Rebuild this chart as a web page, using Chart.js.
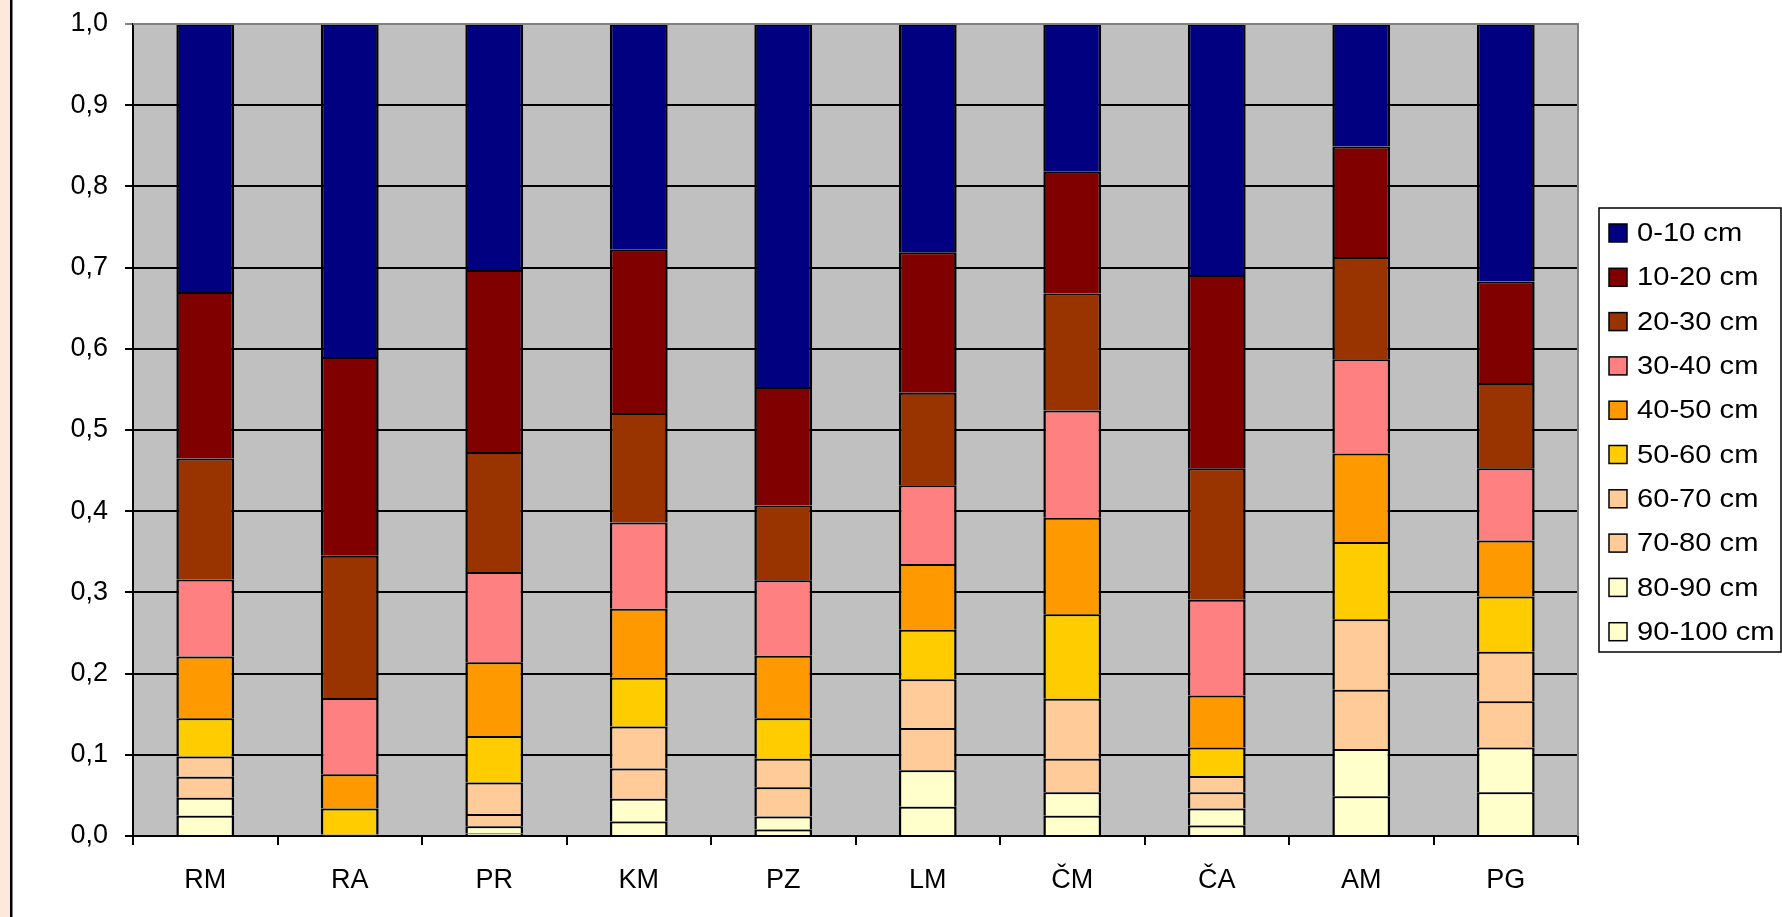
<!DOCTYPE html>
<html>
<head>
<meta charset="utf-8">
<title>Podíl kořenové biomasy podle hloubky</title>
<script src="https://cdn.jsdelivr.net/npm/chart.js@4.4.1/dist/chart.umd.min.js"></script>
<style>
  html, body { margin: 0; padding: 0; background: #ffffff; }
  #wrap { width: 1782px; height: 917px; }
  canvas { display: block; }
</style>
</head>
<body>
<div id="wrap"><canvas id="chart" width="1782" height="917"></canvas></div>
<script>
// Sites
const categories = ['RM', 'RA', 'PR', 'KM', 'PZ', 'LM', 'ČM', 'ČA', 'AM', 'PG'];

// Share of each depth layer per site (columns sum to 1)
const share0to10   = [0.330, 0.410, 0.303, 0.278, 0.447, 0.281, 0.182, 0.309, 0.151, 0.317];
const share10to20  = [0.205, 0.245, 0.224, 0.201, 0.146, 0.173, 0.150, 0.238, 0.136, 0.125];
const share20to30  = [0.149, 0.175, 0.148, 0.135, 0.092, 0.114, 0.144, 0.162, 0.126, 0.105];
const share30to40  = [0.095, 0.094, 0.111, 0.106, 0.093, 0.097, 0.132, 0.118, 0.116, 0.089];
const share40to50  = [0.076, 0.042, 0.091, 0.085, 0.077, 0.081, 0.119, 0.064, 0.109, 0.069];
const share50to60  = [0.047, 0.032, 0.057, 0.060, 0.050, 0.061, 0.104, 0.035, 0.095, 0.068];
const share60to70  = [0.025, 0.000, 0.039, 0.052, 0.035, 0.060, 0.074, 0.020, 0.087, 0.061];
const share70to80  = [0.026, 0.0005, 0.015, 0.037, 0.036, 0.052, 0.041, 0.020, 0.073, 0.057];
const share80to90  = [0.022, 0.0005, 0.009, 0.028, 0.016, 0.045, 0.029, 0.021, 0.058, 0.055];
const share90to100 = [0.025, 0.001, 0.003, 0.018, 0.008, 0.036, 0.025, 0.013, 0.049, 0.054];

// Y axis tick values
const yTicks = [0, 0.1, 0.2, 0.3, 0.4, 0.5, 0.6, 0.7, 0.8, 0.9, 1.0];

// Layer names and fills, deepest layer first (bottom of each stack)
const layerNames  = ['90-100 cm', '80-90 cm', '70-80 cm', '60-70 cm', '50-60 cm',
                     '40-50 cm', '30-40 cm', '20-30 cm', '10-20 cm', '0-10 cm'];
const layerColors = ['#FFFFCC', '#FFFFCC', '#FFCC99', '#FFCC99', '#FFCC00',
                     '#FF9900', '#FF8080', '#993300', '#800000', '#000080'];
const layerData   = [share90to100, share80to90, share70to80, share60to70, share50to60,
                     share40to50, share30to40, share20to30, share10to20, share0to10];

const FONT = "'Liberation Sans', Arial, sans-serif";

const datasets = layerNames.map((name, i) => ({
  label: name,
  data: layerData[i],
  backgroundColor: layerColors[i],
  borderColor: '#000000',
  borderWidth: { top: 2, left: 2.5, right: 2.5, bottom: 0 },
  borderSkipped: 'start',
  barPercentage: 0.4,
  categoryPercentage: 1.0
}));

// Page frame, plot background, plot border and the boxed legend
const framePlugin = {
  id: 'frame',
  beforeDraw(chart) {
    const ctx = chart.ctx;
    const a = chart.chartArea;
    ctx.save();
    ctx.fillStyle = '#ffffff';
    ctx.fillRect(0, 0, chart.width, chart.height);
    ctx.fillStyle = '#FDE9D9';
    ctx.fillRect(0, 0, 10, chart.height);
    ctx.fillStyle = '#000000';
    ctx.fillRect(10, 0, 2.5, chart.height);
    ctx.fillStyle = '#C0C0C0';
    ctx.fillRect(a.left, a.top, a.right - a.left, a.bottom - a.top);
    ctx.restore();
  },
  afterDraw(chart) {
    const ctx = chart.ctx;
    const a = chart.chartArea;
    ctx.save();
    // plot area border (top and right)
    ctx.strokeStyle = '#808080';
    ctx.lineWidth = 2;
    ctx.beginPath();
    ctx.moveTo(a.left, a.top);
    ctx.lineTo(a.right, a.top);
    ctx.lineTo(a.right, a.bottom);
    ctx.stroke();

    // legend, top layer listed first
    const boxL = 1599, boxT = 208, boxR = 1781, boxB = 652;
    ctx.strokeStyle = '#000000';
    ctx.lineWidth = 1.5;
    ctx.fillStyle = '#ffffff';
    ctx.fillRect(boxL, boxT, boxR - boxL, boxB - boxT);
    ctx.strokeRect(boxL, boxT, boxR - boxL, boxB - boxT);
    const items = chart.data.datasets.slice().reverse();
    items.forEach((ds, i) => {
      const cy = 233 + i * 44.3;
      ctx.fillStyle = ds.backgroundColor;
      ctx.fillRect(1609, cy - 9, 18, 18);
      ctx.strokeStyle = '#000000';
      ctx.lineWidth = 1.5;
      ctx.strokeRect(1609, cy - 9, 18, 18);
      ctx.save();
      ctx.translate(1637, cy + 1);
      ctx.scale(1.12, 1);
      ctx.font = '26px ' + FONT;
      ctx.textBaseline = 'middle';
      ctx.textAlign = 'left';
      ctx.fillStyle = '#000000';
      ctx.fillText(ds.label, 0, 0);
      ctx.restore();
    });
    ctx.restore();
  }
};

new Chart(document.getElementById('chart'), {
  type: 'bar',
  data: { labels: categories, datasets: datasets },
  plugins: [framePlugin],
  options: {
    responsive: false,
    animation: false,
    devicePixelRatio: 1,
    layout: { padding: { top: 24, right: 204, left: 0, bottom: 0 } },
    plugins: {
      legend: { display: false },
      tooltip: { enabled: false },
      title: { display: false }
    },
    scales: {
      x: {
        stacked: true,
        offset: true,
        afterFit(scale) {
          scale.height = 81;
          scale.paddingLeft = 0;
          scale.paddingRight = 0;
        },
        grid: {
          offset: true,
          drawOnChartArea: false,
          drawTicks: true,
          tickLength: 9,
          color: '#000000',
          lineWidth: 2
        },
        border: { display: true, color: '#000000', width: 2 },
        ticks: {
          color: '#000000',
          font: { family: FONT, size: 27 },
          padding: 19,
          maxRotation: 0
        }
      },
      y: {
        stacked: true,
        min: 0,
        max: 1,
        afterFit(scale) {
          scale.width = 133;
          scale.paddingTop = 0;
          scale.paddingBottom = 0;
        },
        afterBuildTicks(scale) { scale.ticks = yTicks.map(v => ({ value: v })); },
        grid: {
          drawTicks: true,
          tickLength: 8,
          lineWidth: 2,
          color: ctx => (ctx.tick && ctx.tick.value === 1 ? '#808080' : '#000000')
        },
        border: { display: true, color: '#000000', width: 2 },
        ticks: {
          color: '#000000',
          font: { family: FONT, size: 27 },
          padding: 17,
          callback: v => Number(v).toFixed(1).replace('.', ',')
        }
      }
    }
  }
});
</script>
</body>
</html>
